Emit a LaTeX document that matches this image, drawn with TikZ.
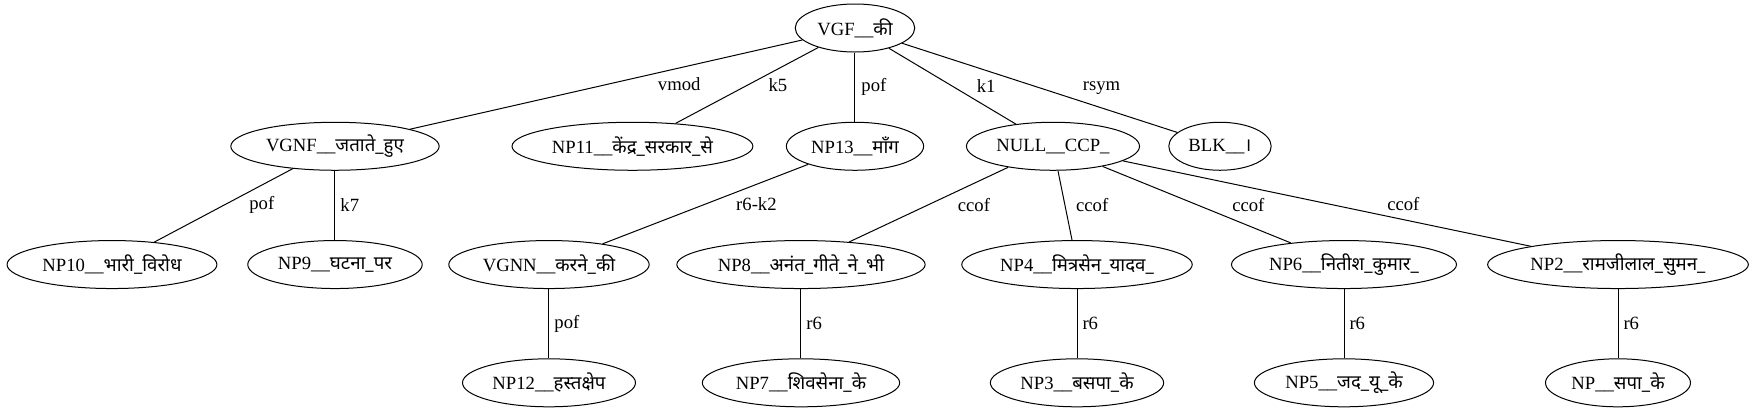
\documentclass[tikz,border=0pt]{standalone}
\usepackage{fontspec}
\setmainfont{Liberation Serif}
\newfontfamily\hindi[Script=Devanagari]{Noto Sans}
\usetikzlibrary{shapes,positioning}

\begin{document}
\begin{tikzpicture}[node distance=88.7pt,font=\fontsize{14}{17}\selectfont]

  \tikzstyle{tok}=[ellipse,draw,line width=0.75pt,minimum height=36pt,
                   inner xsep=3.5pt,inner ysep=0pt]
  \tikzstyle{lbl}=[inner sep=0pt]
  \tikzstyle{every edge}=[draw,line width=0.75pt]

  \useasboundingbox (-641.25pt,21pt) rectangle (678.75pt,-287.25pt);

  % root
  \node [tok] (vgf) {VGF\_\_{\hindi की}};

  % first level
  \node [tok] (vgnf) [below of=vgf,xshift=-390pt]  {VGNF\_\_{\hindi जताते\_हुए}}
    edge node [lbl,right=38.4pt] {vmod}  (vgf);
  \node [tok] (np11) [below of=vgf,xshift=-166.9pt] {NP11\_\_{\hindi केंद्र\_सरकार\_से}}
    edge node [lbl,right=15.9pt] {k5}    (vgf);
  \node [tok] (np13) [below of=vgf]                 {NP13\_\_{\hindi माँग}}
    edge node [lbl,right=4.5pt]  {pof}   (vgf);
  \node [tok] (ccp)  [below of=vgf,xshift=148.5pt]  {NULL\_\_CCP\_}
    edge node [lbl,right=18pt]   {k1}    (vgf);
  \node [tok] (blk)  [below of=vgf,xshift=273.75pt] {BLK\_\_{\hindi ।}}
    edge node [lbl,right=32pt]   {rsym}  (vgf);

  % second level
  \node [tok] (np10) [below of=vgnf,xshift=-167.25pt] {NP10\_\_{\hindi भारी\_विरोध}}
    edge node [lbl,right=19pt]   {pof}   (vgnf);
  \node [tok] (np9)  [below of=vgnf]                  {NP9\_\_{\hindi घटना\_पर}}
    edge node [lbl,right=3.75pt] {k7}    (vgnf);
  \node [tok] (vgnn) [below of=np13,xshift=-229.5pt]  {VGNN\_\_{\hindi करने\_की}}
    edge node [lbl,right=22.7pt] {r6-k2} (np13);
  \node [tok] (np8)  [below of=ccp,xshift=-189pt]     {NP8\_\_{\hindi अनंत\_गीते\_ने\_भी}}
    edge node [lbl,right=21.5pt] {ccof}  (ccp);
  \node [tok] (np4)  [below of=ccp,xshift=18pt]       {NP4\_\_{\hindi मित्रसेन\_यादव\_}}
    edge node [lbl,right=8pt]    {ccof}  (ccp);
  \node [tok] (np6)  [below of=ccp,xshift=218.25pt]   {NP6\_\_{\hindi नितीश\_कुमार\_}}
    edge node [lbl,right=26.3pt] {ccof}  (ccp);
  \node [tok] (np2)  [below of=ccp,xshift=423.75pt]   {NP2\_\_{\hindi रामजीलाल\_सुमन\_}}
    edge node [lbl,right=45pt]   {ccof}  (ccp);

  % third level
  \node [tok] (np12) [below of=vgnn] {NP12\_\_{\hindi हस्तक्षेप}}
    edge node [lbl,right=3.75pt] {pof} (vgnn);
  \node [tok] (np7)  [below of=np8]  {NP7\_\_{\hindi शिवसेना\_के}}
    edge node [lbl,right=3.75pt] {r6}  (np8);
  \node [tok] (np3)  [below of=np4]  {NP3\_\_{\hindi बसपा\_के}}
    edge node [lbl,right=3.75pt] {r6}  (np4);
  \node [tok] (np5)  [below of=np6]  {NP5\_\_{\hindi जद\_यू\_के}}
    edge node [lbl,right=3.75pt] {r6}  (np6);
  \node [tok] (np)   [below of=np2]  {NP\_\_{\hindi सपा\_के}}
    edge node [lbl,right=3.75pt] {r6}  (np2);
\end{tikzpicture}
\end{document}
